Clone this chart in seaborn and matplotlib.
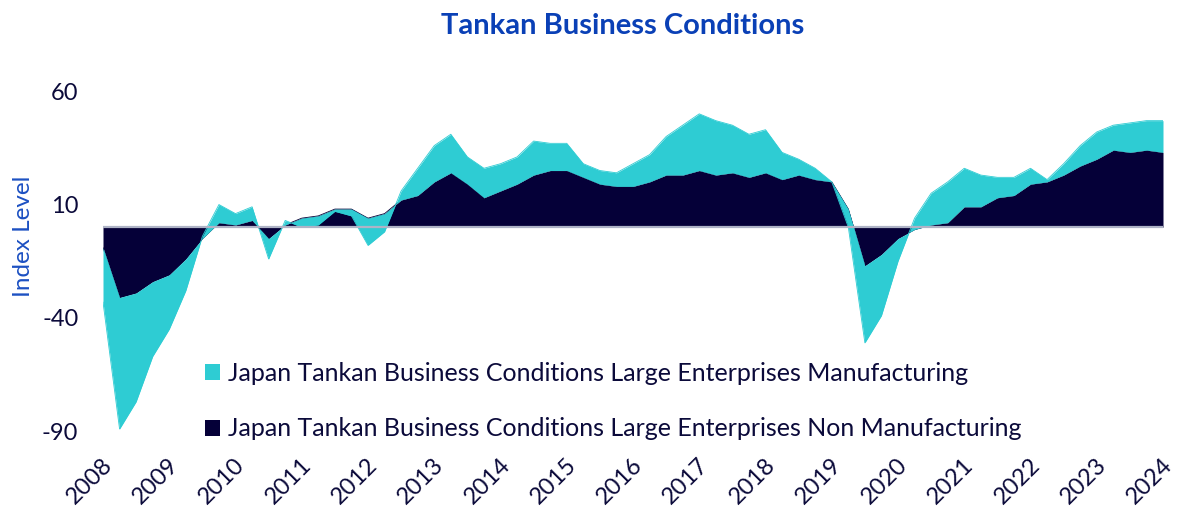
import numpy as np
import pandas as pd
import matplotlib
matplotlib.use("Agg")
import matplotlib.pyplot as plt
import matplotlib.transforms as mtransforms
from matplotlib.patches import Patch
import seaborn as sns

# Quarterly Tankan DI, Large Enterprises (Q4 2008 .. Q4 2024)
non_manufacturing = [-9, -31, -29, -24, -21, -14, -5, 2, 1, 3, -5, 1, 4, 5, 8, 8,
                     4, 6, 12, 14, 20, 24, 19, 13, 16, 19, 23, 25, 25, 22, 19, 18,
                     18, 20, 23, 23, 25, 23, 24, 22, 24, 21, 23, 21, 20, 8, -17, -12,
                     -5, -1, 1, 2, 9, 9, 13, 14, 19, 20, 23, 27, 30, 34, 33, 34, 33]
manufacturing = [-24, -58, -48, -33, -24, -14, 1, 8, 5, 6, -9, 2, -4, -4, -1, -3,
                 -12, -8, 4, 12, 16, 17, 12, 13, 12, 12, 15, 12, 12, 6, 6, 6,
                 10, 12, 17, 22, 25, 24, 21, 19, 19, 12, 7, 5, 0, -8, -34, -27,
                 -10, 5, 14, 18, 17, 14, 9, 8, 7, 1, 5, 9, 12, 11, 13, 13, 14]
year_labels = [str(y) for y in range(2008, 2025)]
y_ticks = [-90, -40, 10, 60]
series_names = ["Japan Tankan Business Conditions Large Enterprises Manufacturing",
                "Japan Tankan Business Conditions Large Enterprises Non Manufacturing"]

CYAN = "#2ECCD3"
NAVY = "#050038"
TXT = "#0B0A3A"
TITLE_BLUE = "#0A40B6"
LABEL_BLUE = "#1C50C2"

sns.set_theme(style="white")
plt.rcParams["font.family"] = ["Lato", "DejaVu Sans"]

df = pd.DataFrame({
    "q": np.arange(len(manufacturing)),
    "non": non_manufacturing,
    "man": manufacturing,
})
df["stack"] = df["non"] + df["man"]

fig = plt.figure(figsize=(12, 5.31), dpi=100)
ax = fig.add_axes([103 / 1200, 0.1878, (1163 - 103) / 1200, 0.8283 - 0.1878])

# stacked areas: navy from 0, cyan stacked on top of navy
sns.lineplot(data=df, x="q", y="non", ax=ax, color=NAVY, linewidth=0.6, zorder=1)
ax.fill_between(df["q"], 0, df["non"], color=NAVY, linewidth=0, zorder=1)
ax.fill_between(df["q"], df["non"], df["stack"], color=CYAN, linewidth=0, zorder=2)
sns.lineplot(data=df, x="q", y="stack", ax=ax, color=CYAN, linewidth=0.6, zorder=2)
ax.hlines(0, df["q"].iloc[0], df["q"].iloc[-1], color="#AEB3C6", linewidth=1.6, zorder=3)

ax.set_xlim(df["q"].iloc[0], df["q"].iloc[-1])
ax.set_ylim(y_ticks[0], y_ticks[-1])
ax.set_xlabel("")
ax.set_ylabel("")
for s in ax.spines.values():
    s.set_visible(False)
ax.grid(False)

ax.set_yticks(y_ticks)
ax.set_yticklabels([str(v) for v in y_ticks])
ax.tick_params(axis="y", length=0, pad=17.8, labelsize=17, labelcolor=TXT)

ax.set_xticks(df["q"].iloc[::4])
ax.set_xticklabels(year_labels, rotation=45, ha="right", va="center",
                   rotation_mode="anchor")
ax.tick_params(axis="x", length=0, pad=22, labelsize=17, labelcolor=TXT)
offset = mtransforms.ScaledTranslation(6 / 100, 0, fig.dpi_scale_trans)
for lab in ax.get_xticklabels():
    lab.set_transform(lab.get_transform() + offset)

fig.text(622.5 / 1200, 1 - 26 / 531, "Tankan Business Conditions", ha="center",
         va="center", fontsize=21, fontweight="bold", color=TITLE_BLUE)
fig.text(23.5 / 1200, 1 - 236.5 / 531, "Index Level", ha="center", va="center",
         rotation=90, fontsize=17.5, color=LABEL_BLUE)

handles = [Patch(facecolor=CYAN, edgecolor="none"), Patch(facecolor=NAVY, edgecolor="none")]
leg = ax.legend(handles, series_names, loc="upper left",
                bbox_to_anchor=(205 / 1200, 1 - 362 / 531), bbox_transform=fig.transFigure,
                frameon=False, fontsize=18, handlelength=0.6, handleheight=0.6,
                handletextpad=0.3, labelspacing=1.3, borderpad=0, borderaxespad=0)
for t in leg.get_texts():
    t.set_color(TXT)

fig.savefig("out.png", dpi=100, facecolor="white")
